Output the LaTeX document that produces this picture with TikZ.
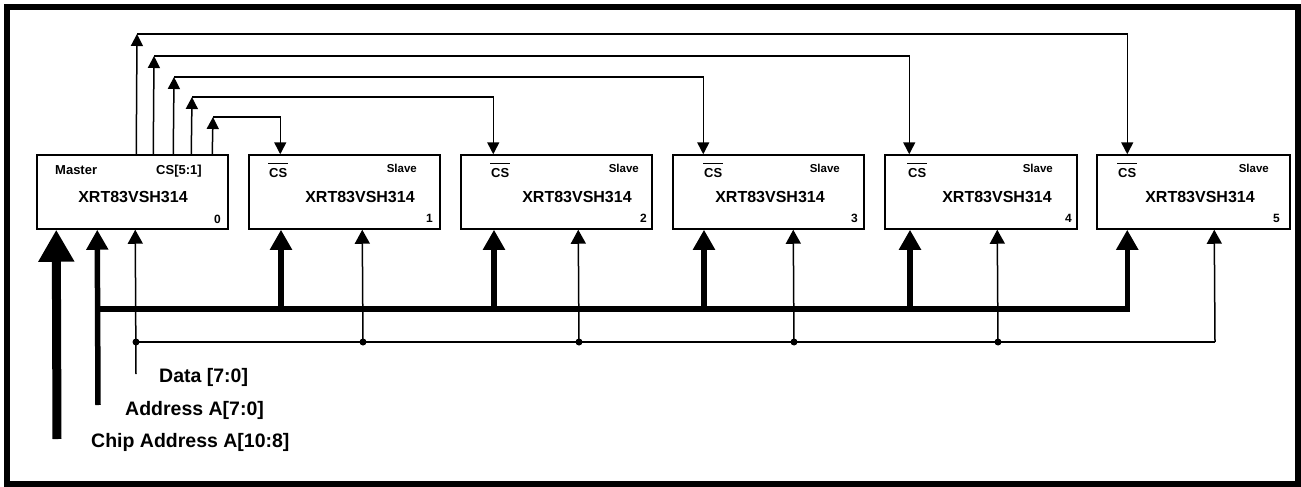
\documentclass[tikz,border=0pt]{standalone}
\usepackage{fontspec}
\setmainfont{Liberation Sans}
\usetikzlibrary{arrows.meta}
\begin{document}
\begin{tikzpicture}[x=1pt,y=-1pt,
  box/.style={draw,line width=1.5pt,rectangle,inner sep=0pt,minimum height=74pt},
  thinline/.style={line width=1.5pt},
  addrline/.style={line width=5.5pt},
  chipline/.style={line width=9pt},
  csup/.style={thinline,-{Triangle[length=12pt,width=12pt]}},
  datatip/.style={thinline,-{Triangle[length=14pt,width=15pt]}},
  addrtip/.style={addrline,-{Triangle[length=20pt,width=21pt]}},
  chiptip/.style={chipline,-{Triangle[length=32pt,width=34pt]}},
  lbl/.style={inner sep=0pt,font=\fontsize{19.5}{20}\selectfont\bfseries,anchor=base west},
  xrt/.style={inner sep=0pt,font=\fontsize{16}{16}\selectfont\bfseries,anchor=base},
  small/.style={inner sep=0pt,font=\fontsize{13}{13}\selectfont\bfseries},
  slv/.style={inner sep=0pt,font=\fontsize{11.5}{12}\selectfont\bfseries,anchor=base east},
  dig/.style={inner sep=0pt,font=\fontsize{12}{12}\selectfont\bfseries,anchor=base east},
  dot/.style={fill,circle,inner sep=0pt,minimum size=7pt}
]
\useasboundingbox (0,0) rectangle (1301,487);
\draw[line width=6.5pt] (7,7) rectangle (1298,484);

% master
\node[box,minimum width=191pt] (m0) at (132.5,192) {};
\node[small,anchor=base west] (mlab) at (55,174) {Master};
\node[small,anchor=base west] (mcs) at (156,174) {CS[5:1]};
\node[xrt] (mx) at (133,202) {XRT83VSH314};
\node[dig] (mn) at (221,223) {0};

% slaves
\foreach \kk/\ll/\rr/\csx/\dxx/\csw/\slx/\xrx/\dgx/\cyy/\mox in {
  1/249/440/281/363/269/417/360/433/117/213,
  2/461/652/494/579/491/639/577/647/97/192,
  3/673/864/704/794/704/840/770/858/77/174,
  4/885/1077/910/998/908/1053/997/1072/56/154,
  5/1097/1290/1128/1215/1118/1269/1200/1280/34/137}{
  \pgfmathsetmacro\bcx{(\ll+\rr)/2}
  \pgfmathsetmacro\bwd{\rr-\ll}
  \pgfmathsetmacro\csoff{\csx-\ll}
  \pgfmathsetmacro\doff{\dxx-\ll}
  \pgfmathsetmacro\moff{\mox-37}
  \node[box,minimum width=\bwd pt] (s\kk) at (\bcx,192) {};
  \node[small,anchor=base west] (cs\kk) at (\csw,177) {CS};
  \draw[line width=1pt] ([xshift=-1pt,yshift=4.5pt]cs\kk.north west) -- ([xshift=1pt,yshift=4.5pt]cs\kk.north east);
  \node[slv] (sl\kk) at (\slx,172) {Slave};
  \node[xrt] (x\kk) at (\xrx,202) {XRT83VSH314};
  \node[dig] (n\kk) at (\dgx,222) {\kk};
  % chip select
  \coordinate (c\kk) at (\mox,\cyy);
  \draw[csup] ([xshift=\moff pt]m0.north west) -- (c\kk);
  \draw[csup] (c\kk) -| ([xshift=\csoff pt]s\kk.north west);
  % address bus branch
  \coordinate (ab\kk) at (\csx,309);
  % data bus branch
  \coordinate (db\kk) at (\dxx,342);
  \draw[datatip] (db\kk) -- ([xshift=\doff pt]s\kk.south west);
}
\foreach \kk in {1,2,3,4}{
  \draw[addrtip] (ab\kk) -- (ab\kk |- s\kk.south);
  \node[dot] (dd\kk) at (db\kk) {};
}

% master inputs
\coordinate (chipend) at (57,439);
\coordinate (addrend) at (98,405);
\coordinate (addrcorner) at (98,309);
\coordinate (dataend) at (136,374);
\coordinate (datacorner) at (136,342);
\draw[chiptip] (chipend) -- ([xshift=20pt]m0.south west);
\draw[addrtip] (addrend) -- ([xshift=61pt]m0.south west);
\draw[datatip] (dataend) -- ([xshift=99pt]m0.south west);
\draw[addrtip] (addrcorner) -| ([xshift=31pt]s5.south west);
\draw[thinline] (datacorner) -- (db5);
\node[dot] (dd0) at (datacorner) {};

% labels
\node[lbl] (ldata) at (159,382) {Data [7:0]};
\node[lbl] (laddr) at (125,415) {Address A[7:0]};
\node[lbl] (lchip) at (91,447) {Chip Address A[10:8]};
\end{tikzpicture}
\end{document}
